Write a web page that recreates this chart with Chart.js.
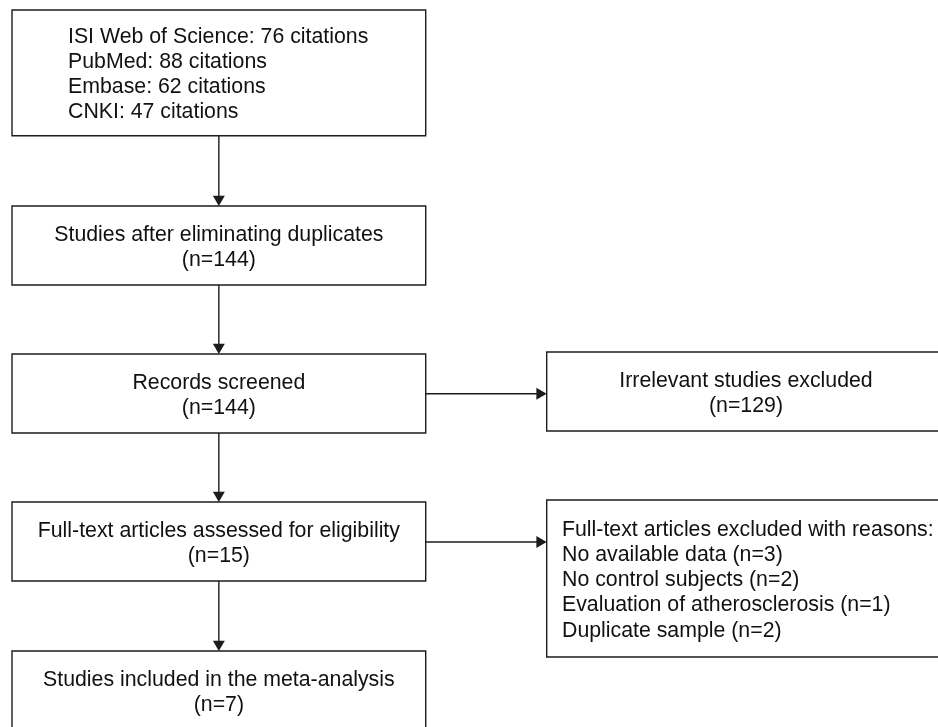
<!DOCTYPE html>
<html>
<head>
<meta charset="utf-8">
<script src="https://cdn.jsdelivr.net/npm/chart.js@4.4.0/dist/chart.umd.min.js"></script>
<style>
    html, body { margin: 0; padding: 0; background: #ffffff; }
</style>
</head>
<body>
<canvas id="flowChart" width="938" height="727"></canvas>
<script>
// content of the flow diagram
const sourceLines = ["ISI Web of Science: 76 citations", "PubMed: 88 citations", "Embase: 62 citations", "CNKI: 47 citations"];
const stageNames = ["Studies after eliminating duplicates", "Records screened", "Full-text articles assessed for eligibility", "Studies included in the meta-analysis"];
const stageCounts = [144, 144, 15, 7];
const excludedName = "Irrelevant studies excluded";
const excludedCount = 129;
const reasonHeader = "Full-text articles excluded with reasons:";
const reasonNames = ["No available data", "No control subjects", "Evaluation of atherosclerosis", "Duplicate sample"];
const reasonCounts = [3, 2, 1, 2];

// layout, in chart units (the axes run 0..938 and 0..727)
const leftCol = { x0: 12, x1: 425.7 };
const rightCol = { x0: 546.7, x1: 946 };
const lineGap = 25.3;
const capHeight = 15.3;
const fontSpec = '21.3px "Liberation Sans", Arial, sans-serif';
const ink = '#1c1c1c';
const headR = 6.9;

const stageText = stageNames.map((name, i) => [name, `(n=${stageCounts[i]})`]);
const reasonText = [reasonHeader].concat(reasonNames.map((name, i) => `${name} (n=${reasonCounts[i]})`));

const boxes = [
    { col: leftCol, y0: 10, y1: 135.7, lines: sourceLines, align: 'left', textX: 68 },
    { col: leftCol, y0: 206, y1: 285, lines: stageText[0], align: 'center' },
    { col: leftCol, y0: 354, y1: 433, lines: stageText[1], align: 'center' },
    { col: rightCol, y0: 352, y1: 431, lines: [excludedName, `(n=${excludedCount})`], align: 'center', textX: 746 },
    { col: leftCol, y0: 502, y1: 581, lines: stageText[2], align: 'center' },
    { col: rightCol, y0: 500, y1: 657, lines: reasonText, align: 'left', textX: 562 },
    { col: leftCol, y0: 651, y1: 731, lines: stageText[3], align: 'center' }
];

const midX = (leftCol.x0 + leftCol.x1) / 2;
const arrows = [
    { from: [midX, 135.7], to: [midX, 206], dir: 'down' },
    { from: [midX, 285], to: [midX, 354], dir: 'down' },
    { from: [midX, 433], to: [midX, 502], dir: 'down' },
    { from: [midX, 581], to: [midX, 651], dir: 'down' },
    { from: [leftCol.x1, 393.7], to: [rightCol.x0, 393.7], dir: 'right' },
    { from: [leftCol.x1, 542], to: [rightCol.x0, 542], dir: 'right' }
];

const datasets = [];

boxes.forEach(b => {
    datasets.push({
        data: [
            { x: b.col.x0, y: b.y0 }, { x: b.col.x1, y: b.y0 },
            { x: b.col.x1, y: b.y1 }, { x: b.col.x0, y: b.y1 },
            { x: b.col.x0, y: b.y0 }, { x: b.col.x1, y: b.y0 }
        ],
        showLine: true,
        borderColor: ink,
        borderWidth: 1.4,
        borderJoinStyle: 'miter',
        pointRadius: 0,
        tension: 0,
        fill: false
    });
});

arrows.forEach(a => {
    // shaft stops at the centre of the triangle head so the tip lands on the box
    const end = a.dir === 'down'
        ? { x: a.to[0], y: a.to[1] - headR }
        : { x: a.to[0] - headR, y: a.to[1] };
    datasets.push({
        data: [{ x: a.from[0], y: a.from[1] }, end],
        showLine: true,
        borderColor: ink,
        borderWidth: 1.4,
        pointRadius: [0, headR],
        pointStyle: 'triangle',
        rotation: a.dir === 'down' ? 180 : 90,
        pointBackgroundColor: ink,
        pointBorderWidth: 0,
        tension: 0,
        fill: false
    });
});

const boxTextPlugin = {
    id: 'boxText',
    afterDatasetsDraw(chart) {
        const ctx = chart.ctx;
        const xs = chart.scales.x;
        const ys = chart.scales.y;
        ctx.save();
        ctx.font = fontSpec;
        ctx.fillStyle = '#111111';
        ctx.textBaseline = 'alphabetic';
        boxes.forEach(b => {
            const n = b.lines.length;
            const centre = (b.y0 + b.y1) / 2;
            const firstBase = centre + (capHeight - lineGap * (n - 1)) / 2;
            const tx = b.align === 'left' ? b.textX : (b.textX || (b.col.x0 + b.col.x1) / 2);
            ctx.textAlign = b.align;
            b.lines.forEach((line, i) => {
                ctx.fillText(line, xs.getPixelForValue(tx), ys.getPixelForValue(firstBase + i * lineGap));
            });
        });
        ctx.restore();
    }
};

new Chart(document.getElementById('flowChart').getContext('2d'), {
    type: 'scatter',
    data: { datasets: datasets },
    options: {
        responsive: false,
        animation: false,
        devicePixelRatio: 1,
        layout: { padding: 0, autoPadding: false },
        plugins: {
            legend: { display: false },
            tooltip: { enabled: false }
        },
        scales: {
            x: { type: 'linear', min: 0, max: 938, display: false },
            y: { type: 'linear', min: 0, max: 727, reverse: true, display: false }
        }
    },
    plugins: [boxTextPlugin]
});
</script>
</body>
</html>
